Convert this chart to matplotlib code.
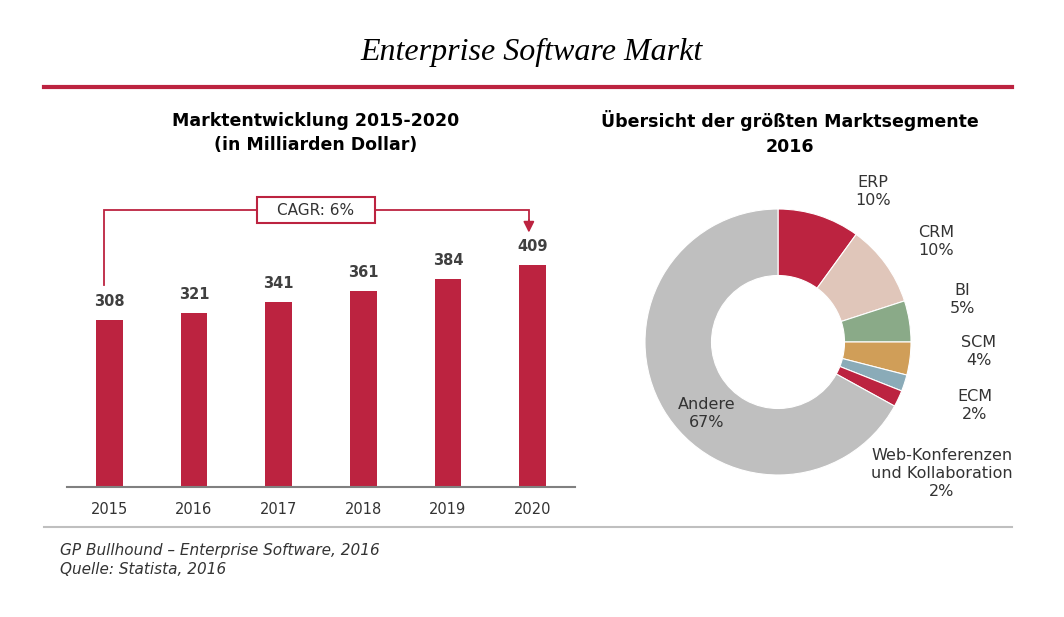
import matplotlib
matplotlib.use("Agg")
import matplotlib.pyplot as plt
from matplotlib.lines import Line2D
from matplotlib.patches import Rectangle

# data
years = ["2015", "2016", "2017", "2018", "2019", "2020"]
market = [308, 321, 341, 361, 384, 409]

segments = ["ERP", "CRM", "BI", "SCM", "ECM", "Web-Konferenzen\nund Kollaboration", "Andere"]
shares = [10, 10, 5, 4, 2, 2, 67]
seg_colors = ["#BC2340", "#E0C6BA", "#8AAA88", "#D09E58", "#8AABB8", "#BC2340", "#BFBFBF"]

RED = "#BC2340"
TXT = "#333333"
W, H = 1064, 617

plt.rcParams["font.family"] = ["DejaVu Sans"]

fig = plt.figure(figsize=(W / 100, H / 100), dpi=100)


def fx(px):
    return px / W


def fy(py):
    return 1 - py / H


# header
fig.text(fx(532), fy(52), "Enterprise Software Markt", ha="center", va="center",
         family="Liberation Serif", style="italic", fontsize=23, color="black")
fig.add_artist(Line2D([fx(44), fx(1012)], [fy(87), fy(87)], color=RED, lw=3))
fig.add_artist(Line2D([fx(44), fx(1012)], [fy(527), fy(527)], color="#BFBFBF", lw=1.5))

# footnote
fig.text(fx(60), fy(550), "GP Bullhound \u2013 Enterprise Software, 2016", ha="left", va="center",
         style="italic", fontsize=11, color=TXT)
fig.text(fx(60), fy(570), "Quelle: Statista, 2016", ha="left", va="center",
         style="italic", fontsize=11, color=TXT)

# panel titles
fig.text(fx(316), fy(133), "Marktentwicklung 2015-2020\n(in Milliarden Dollar)", ha="center",
         va="center", fontsize=12.5, fontweight="bold", color="black", linespacing=1.45)
fig.text(fx(790), fy(133), "Übersicht der größten Marktsegmente\n2016", ha="center",
         va="center", fontsize=12.5, fontweight="bold", color="black", linespacing=1.45)

# bar chart
ax = fig.add_axes([fx(67), fy(487), fx(575) - fx(67), fy(190) - fy(487)])
x = range(len(years))
ax.bar(x, market, width=0.315, color=RED, zorder=2)
for i, v in zip(x, market):
    ax.text(i, v + 20, str(v), ha="center", va="bottom", fontsize=10.5,
            fontweight="bold", color="#404040")
ax.set_xlim(-0.5, 5.5)
ax.set_ylim(0, 547.5)
ax.set_xticks(list(x))
ax.set_xticklabels(years, fontsize=10.5, color=TXT)
ax.tick_params(axis="x", length=0, pad=11)
ax.set_yticks([])
for s in ["top", "right", "left"]:
    ax.spines[s].set_visible(False)
ax.spines["bottom"].set_color("#808080")
ax.spines["bottom"].set_linewidth(1.5)

# CAGR bracket
y_top = 510.6
ax.plot([-0.063, -0.063, 4.955, 4.955], [372, y_top, y_top, 489], color=RED, lw=1.3,
        solid_joinstyle="miter", zorder=3)
ax.annotate("", xy=(4.955, 469), xytext=(4.955, 492),
            arrowprops=dict(arrowstyle="-|>", color=RED, lw=1.3, mutation_scale=16,
                            shrinkA=0, shrinkB=0))
ax.add_patch(Rectangle((1.74, 486.6), 1.397, 48, facecolor="white", edgecolor=RED,
                       lw=1.5, zorder=4, clip_on=False))
ax.text(2.44, y_top, "CAGR: 6%", ha="center", va="center", fontsize=11, color=TXT, zorder=5)

# donut chart
R = 133
pax = fig.add_axes([fx(778 - R), fy(342 + R), fx(2 * R), (2 * R) / H])
pax.pie(shares, colors=seg_colors, startangle=90, counterclock=False, radius=1,
        wedgeprops=dict(width=0.5, edgecolor="white", linewidth=0.8))
pax.set_xlim(-1, 1)
pax.set_ylim(-1, 1)
pax.axis("off")

label_pos = [(0.714, 1.135), (1.188, 0.752), (1.383, 0.316), (1.511, -0.075),
             (1.481, -0.481), (1.233, -0.985), (-0.534, -0.541)]
for name, share, (lx, ly) in zip(segments, shares, label_pos):
    pax.text(lx, ly, f"{name}\n{share}%", ha="center", va="center", fontsize=11.5,
             color=TXT, linespacing=1.25, clip_on=False)

fig.savefig("out.png", dpi=100)
